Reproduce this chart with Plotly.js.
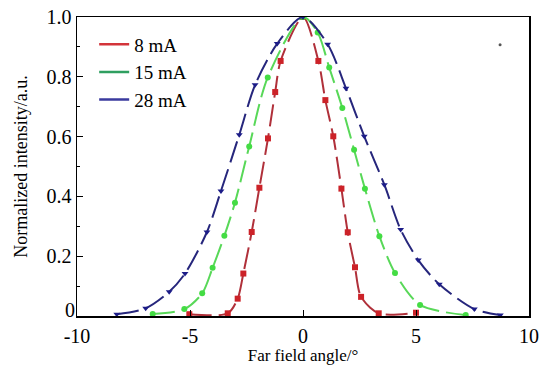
<!DOCTYPE html>
<html><head><meta charset="utf-8">
<script src="https://cdn.plot.ly/plotly-3.0.1.min.js"></script>
<style>body{margin:0;background:#fff}#c{width:541px;height:365px}</style>
</head><body><div id="c"></div>
<script>
const redX = [-5.03,-3.33,-2.89,-2.64,-2.27,-1.93,-1.55,-1.23,-0.99,0,0.68,0.99,1.34,1.70,1.98,2.30,2.57,3.35,5.0];
const redY = [0.006,0.009,0.058,0.142,0.281,0.429,0.594,0.749,0.853,1.0,0.853,0.722,0.601,0.426,0.28,0.163,0.064,0.009,0.011];
const greenX = [-6.65,-5.25,-4.46,-4.0,-3.48,-3.01,-2.38,-1.56,0,0.65,1.16,1.74,2.26,2.74,3.38,4.07,5.18,7.2];
const greenY = [0.007,0.023,0.076,0.161,0.268,0.379,0.567,0.798,1.0,0.948,0.831,0.696,0.556,0.426,0.267,0.144,0.037,0.003];
const blueX = [-8.24,-6.96,-5.92,-5.22,-4.25,-3.63,-2.82,-2.12,-1.14,0,1.09,1.90,2.71,3.60,4.32,5.10,6.03,7.58,8.73];
const blueY = [0.006,0.026,0.081,0.142,0.281,0.418,0.606,0.773,0.911,1.0,0.909,0.762,0.601,0.439,0.289,0.187,0.106,0.023,0.003];
const seriesNames = ['8 mA','15 mA','28 mA'];
const xTicks = [-10,-5,0,5,10];
const yTicks = [0.2,0.4,0.6,0.8,1.0];
const yTickText = ['0.2','0.4','0.6','0.8','1.0'];
const strayX = [8.72], strayY = [0.907];

const F = 'Liberation Serif, Times New Roman, serif';
function dataTrace(x,y,lc,mc,sym){
  return {x:x,y:y,mode:'lines+markers',showlegend:false,
    line:{color:lc,width:2,dash:'22px,7px',shape:'spline',smoothing:0.8},
    marker:{symbol:sym,size:6,color:mc,line:{width:0}}};
}
function legTrace(name,c){
  return {x:[null],y:[null],mode:'lines',name:name,line:{color:c,width:2.5}};
}
const traces = [
  dataTrace(redX,redY,'#b0303a','#cc2228','square'),
  dataTrace(greenX,greenY,'#58d858','#44dc44','circle'),
  dataTrace(blueX,blueY,'#26267c','#1c1c88','triangle-down'),
  legTrace(seriesNames[0],'#d3343a'),
  legTrace(seriesNames[1],'#2f9f60'),
  legTrace(seriesNames[2],'#3a3a9e'),
  {x:strayX,y:strayY,mode:'markers',showlegend:false,marker:{size:3,color:'#555'}}
];
const layout = {
  width:541,height:365,margin:{l:77,r:12,t:17,b:49},
  paper_bgcolor:'#fff',plot_bgcolor:'#fff',
  font:{family:F,size:17,color:'#000'},
  showlegend:true,
  legend:{x:0.038,y:0.972,xanchor:'left',yanchor:'top',bgcolor:'rgba(0,0,0,0)',
    font:{family:F,size:19},tracegroupgap:0,itemwidth:30},
  xaxis:{range:[-10,10],tickvals:xTicks,ticktext:xTicks.map(String),
    ticks:'inside',ticklen:6,tickcolor:'#000',showline:true,mirror:true,linecolor:'#000',linewidth:1.5,
    showgrid:false,zeroline:false,tickfont:{family:F,size:20},ticklabelstandoff:1,
    title:{text:'Far field angle/°',font:{family:F,size:17},standoff:5}},
  yaxis:{range:[0,1],tickvals:yTicks,ticktext:yTickText,
    ticks:'inside',ticklen:6,tickcolor:'#000',showline:true,mirror:true,linecolor:'#000',linewidth:1.5,
    showgrid:false,zeroline:false,tickfont:{family:F,size:20},
    minor:{dtick:0.1,ticks:'inside',ticklen:3,tickcolor:'#000'},
    title:{text:'Normalized intensity/a.u.',font:{family:F,size:18},standoff:14}},
  annotations:[{xref:'paper',yref:'y',x:0,y:0,xanchor:'right',yanchor:'bottom',xshift:-1,yshift:-6,
    text:'0',showarrow:false,font:{family:F,size:20},borderpad:0}]
};
Plotly.newPlot('c',traces,layout,{displayModeBar:false,staticPlot:true});
</script></body></html>
